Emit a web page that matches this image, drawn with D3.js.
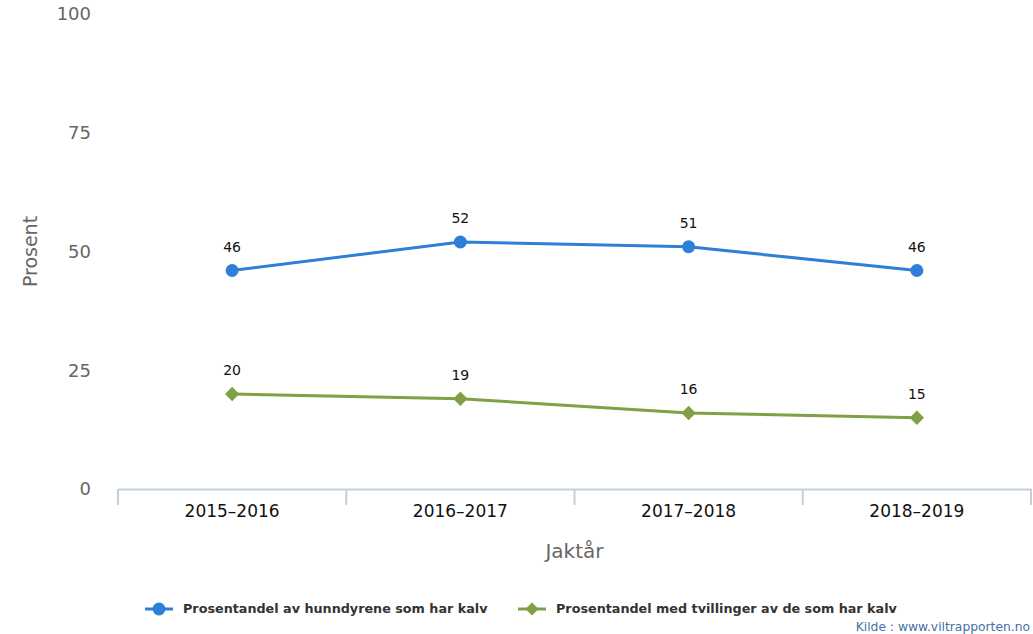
<!DOCTYPE html>
<html lang="no">
<head>
    <meta charset="UTF-8">
    <title>Prosentandel kalv</title>
    <script src="https://d3js.org/d3.v7.min.js"></script>
    <style>
        body { margin: 0; background: #fff; }
        text { font-family: "DejaVu Sans", sans-serif; }
    </style>
</head>
<body>

    <script>

        var categories = ["2015–2016", "2016–2017", "2017–2018", "2018–2019"];
        var kalvValues = [46, 52, 51, 46];
        var tvillingValues = [20, 19, 16, 15];
        var yTicks = [0, 25, 50, 75, 100];

        var seriesNames = ["Prosentandel av hunndyrene som har kalv", "Prosentandel med tvillinger av de som har kalv"];
        var colors = ["#2f7ed8", "#7fa044"];

        var width = 1033;
        var height = 634;
        var plotLeft = 118, plotRight = 1031, plotTop = 14, plotBottom = 489;

        var svg = d3.select("body")
            .append("svg")
            .attr("width", width)
            .attr("height", height);

        var x = d3.scaleBand()
            .domain(categories)
            .range([plotLeft, plotRight]);

        var y = d3.scaleLinear()
            .domain([0, 100])
            .range([plotBottom, plotTop]);

        // y labels (no axis line, no grid)
        svg.selectAll(".ylab")
            .data(yTicks)
            .enter()
                .append("text")
                .attr("class", "ylab")
                .attr("x", 91)
                .attr("y", function (d) { return y(d); })
                .attr("dy", "0.35em")
                .attr("text-anchor", "end")
                .attr("font-size", 18)
                .attr("fill", "#666")
                .text(function (d) { return d; });

        svg.append("text")
            .attr("transform", "translate(37," + y(50) + ") rotate(-90)")
            .attr("text-anchor", "middle")
            .attr("font-size", 19)
            .attr("fill", "#666")
            .text("Prosent");

        // x axis
        var xAxis = d3.axisBottom(x).tickSize(0).tickPadding(16);
        var gx = svg.append("g")
            .attr("transform", "translate(0," + plotBottom + ")")
            .call(xAxis);
        gx.select(".domain").attr("stroke", "#c0d0e0").attr("stroke-width", 2);
        gx.selectAll("text")
            .attr("font-size", 17)
            .attr("fill", "#111")
            .style("font-family", "DejaVu Sans, sans-serif");

        var tickPos = categories.map(function (c) { return x(c); }).concat([plotRight]);
        svg.selectAll(".xtick")
            .data(tickPos)
            .enter()
                .append("line")
                .attr("x1", function (d) { return d; })
                .attr("x2", function (d) { return d; })
                .attr("y1", plotBottom)
                .attr("y2", plotBottom + 16)
                .attr("stroke", "#c0d0e0")
                .attr("stroke-width", 2);

        svg.append("text")
            .attr("x", (plotLeft + plotRight) / 2)
            .attr("y", 558)
            .attr("text-anchor", "middle")
            .attr("font-size", 20)
            .attr("fill", "#666")
            .text("Jaktår");

        var cx = function (d, i) { return x(categories[i]) + x.bandwidth() / 2; };

        var line = d3.line()
            .x(function (d, i) { return cx(d, i); })
            .y(function (d) { return y(d); });

        var allSeries = [kalvValues, tvillingValues];

        allSeries.forEach(function (vals, s) {
            svg.append("path")
                .datum(vals)
                .attr("d", line)
                .attr("fill", "none")
                .attr("stroke", colors[s])
                .attr("stroke-width", 3);

            if (s === 0) {
                svg.selectAll(".pt" + s)
                    .data(vals)
                    .enter()
                        .append("circle")
                        .attr("cx", cx)
                        .attr("cy", function (d) { return y(d); })
                        .attr("r", 6.5)
                        .attr("fill", colors[s]);
            } else {
                svg.selectAll(".pt" + s)
                    .data(vals)
                    .enter()
                        .append("path")
                        .attr("d", d3.symbol().type(d3.symbolDiamond2).size(130))
                        .attr("transform", function (d, i) { return "translate(" + cx(d, i) + "," + y(d) + ")"; })
                        .attr("fill", colors[s]);
            }

            svg.selectAll(".lab" + s)
                .data(vals)
                .enter()
                    .append("text")
                    .attr("x", cx)
                    .attr("y", function (d) { return y(d) - 19; })
                    .attr("text-anchor", "middle")
                    .attr("font-size", 14)
                    .attr("fill", "#111")
                    .text(function (d) { return d; });
        });

        // legend
        var legendX = [145, 518];
        var legend = svg.selectAll(".leg")
            .data(seriesNames)
            .enter()
                .append("g")
                .attr("transform", function (d, i) { return "translate(" + legendX[i] + ",609)"; });

        legend.append("line")
            .attr("x1", 0).attr("x2", 28)
            .attr("stroke", function (d, i) { return colors[i]; })
            .attr("stroke-width", 3);
        legend.append("path")
            .attr("d", function (d, i) {
                return i === 0 ? d3.symbol().type(d3.symbolCircle).size(130)() : d3.symbol().type(d3.symbolDiamond2).size(110)();
            })
            .attr("transform", "translate(14,0)")
            .attr("fill", function (d, i) { return colors[i]; });
        legend.append("text")
            .attr("x", 38)
            .attr("dy", "0.35em")
            .attr("font-size", 12.75)
            .attr("font-weight", "bold")
            .attr("fill", "#333")
            .text(function (d) { return d; });

        svg.append("text")
            .attr("x", 1030)
            .attr("y", 631)
            .attr("text-anchor", "end")
            .attr("font-size", 12.3)
            .attr("fill", "#4572a7")
            .text("Kilde : www.viltrapporten.no");

    </script>

</body>
</html>
